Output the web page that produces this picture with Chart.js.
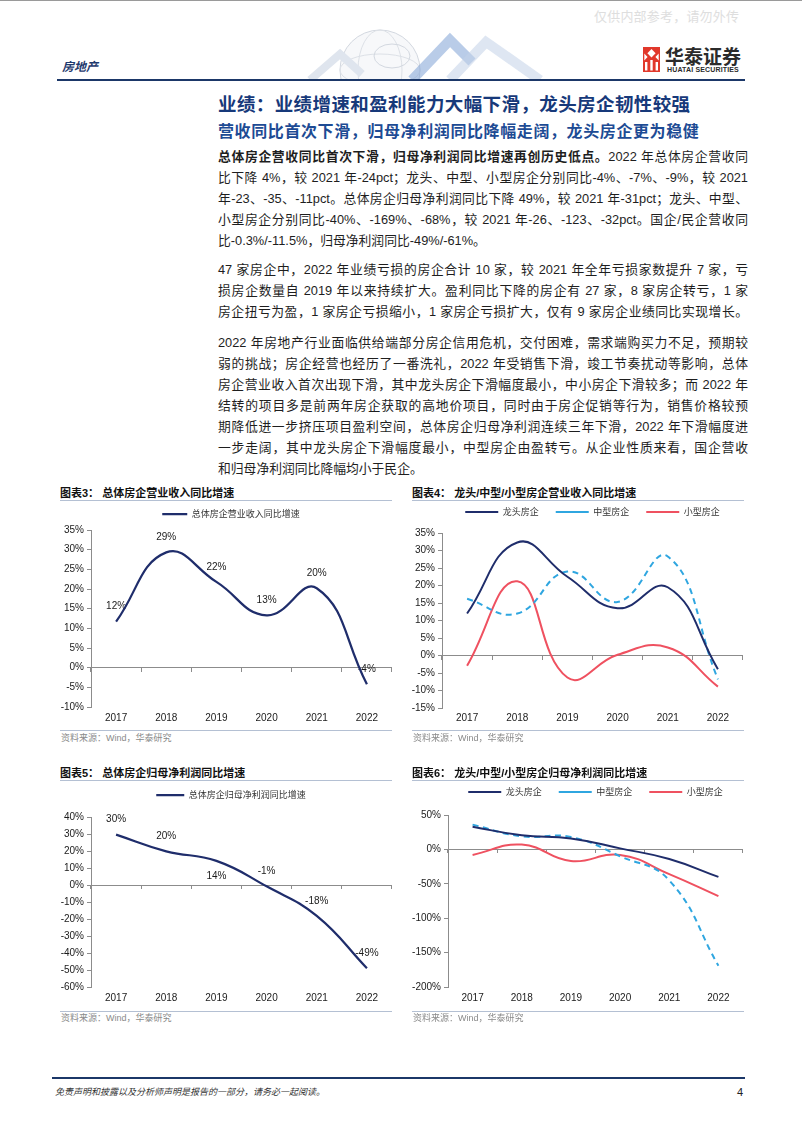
<!DOCTYPE html>
<html lang="zh-CN">
<head>
<meta charset="utf-8">
<title>房地产</title>
<script src="https://cdn.jsdelivr.net/npm/chart.js@4.4.1/dist/chart.umd.min.js"></script>
<style>
  html, body { margin: 0; padding: 0; background: #fff; }
  body {
    position: relative; width: 802px; height: 1133px; overflow: hidden;
    font-family: "Liberation Sans", Arial, "Noto Sans CJK SC", sans-serif; color: #1a1a1a;
  }
  .abs { position: absolute; white-space: nowrap; }
  .topline { left: 0; top: 0; width: 802px; height: 1px; background: #9a9a9a; }
  .watermark { left: 594px; top: 8px; font-size: 13px; line-height: 16px; color: #dedede; letter-spacing: 0.2px; font-family: "Noto Sans CJK SC", sans-serif; }
  .sector { left: 62px; top: 59px; font-size: 12px; line-height: 14px; font-weight: bold; font-style: italic; color: #1f3a6e; font-family: "Noto Sans CJK SC", sans-serif; }
  .brand { left: 665px; top: 46px; font-size: 19px; line-height: 20px; font-weight: bold; color: #2b2b2b; font-family: "Noto Sans CJK SC", sans-serif; }
  .brand-en { left: 667px; top: 66px; font-size: 7px; line-height: 8px; font-weight: bold; color: #2b2b2b; letter-spacing: 0.15px; }
  .rule-head { left: 57px; top: 79px; width: 688px; height: 2px; background: #1b3768; }
  .title { left: 218px; top: 92px; font-size: 18.5px; line-height: 22px; font-weight: bold; letter-spacing: 0.4px; color: #17397a; font-family: "Noto Sans CJK SC", sans-serif; }
  .subtitle { left: 218px; top: 120px; font-size: 16px; line-height: 20px; font-weight: bold; letter-spacing: 0.6px; color: #1d4b94; font-family: "Noto Sans CJK SC", sans-serif; }
  .para { position: absolute; left: 218px; width: 530px; font-size: 12.8px; line-height: 21px; color: #1e1e1e; }
  .ln { text-align: justify; text-align-last: justify; height: 21px; }
  .ln.last { text-align-last: left; }
  .ctitle { font-size: 11px; line-height: 14px; font-weight: bold; color: #111; }
  .crule { height: 1px; width: 332px; background: #b4c0d3; }
  .source { font-size: 9px; line-height: 12px; color: #8a8a8a; }
  .rule-foot { left: 52px; top: 1077px; width: 693px; height: 2px; background: #1b3768; }
  .foot { left: 55px; top: 1085px; font-size: 9px; line-height: 14px; font-style: italic; color: #333; font-family: "Noto Sans CJK SC", sans-serif; }
  .page { left: 737px; top: 1085px; font-size: 11px; line-height: 14px; color: #222; }
  canvas { position: absolute; }
</style>
</head>
<body>
<div class="abs topline"></div>
<div class="abs watermark">仅供内部参考，请勿外传</div>

<svg class="abs" style="left:300px;top:26px" width="250" height="54" viewBox="0 0 250 54">
  <circle cx="80" cy="44" r="40" fill="#f7f8fa" stroke="#d3d8e0" stroke-width="1"/>
  <ellipse cx="80" cy="44" rx="22" ry="40" fill="none" stroke="#dde1e7"/>
  <ellipse cx="80" cy="44" rx="40" ry="16" fill="none" stroke="#dde1e7"/>
  <ellipse cx="92" cy="30" rx="18" ry="12" fill="none" stroke="#d3d8e0"/>
  <polyline points="10,54 40,28 62,48" fill="none" stroke="#dfe5ee" stroke-width="8"/>
  <polyline points="112,54 150,14 172,36" fill="none" stroke="#7fa3d6" stroke-width="10" opacity="0.55"/>
  <polyline points="150,54 186,16 240,54" fill="none" stroke="#c3d2e8" stroke-width="10" opacity="0.55"/>
</svg>

<div class="abs sector">房地产</div>
<svg class="abs" style="left:643px;top:47px" width="17" height="25" viewBox="0 0 17 25">
  <rect width="17" height="25" fill="#e1382b"/>
  <path d="M8.5 2 L12.6 6.3 L8.5 10.6 L4.4 6.3Z" fill="#fff"/>
  <path d="M1.3 6.5 L4.6 10 L1.3 13.5Z M15.7 6.5 L12.4 10 L15.7 13.5Z" fill="#fff"/>
  <rect x="2" y="15" width="2.4" height="8.5" fill="#fff"/>
  <rect x="7.3" y="13" width="2.4" height="10.5" fill="#fff"/>
  <rect x="12.6" y="15" width="2.4" height="8.5" fill="#fff"/>
</svg>
<div class="abs brand">华泰证券</div>
<div class="abs brand-en">HUATAI SECURITIES</div>
<div class="abs rule-head"></div>

<div class="abs title">业绩：业绩增速和盈利能力大幅下滑，龙头房企韧性较强</div>
<div class="abs subtitle">营收同比首次下滑，归母净利润同比降幅走阔，龙头房企更为稳健</div>

<div class="para" style="top:146px">
  <div class="ln"><b>总体房企营收同比首次下滑，归母净利润同比增速再创历史低点。</b>2022 年总体房企营收同</div>
  <div class="ln">比下降 4%，较 2021 年-24pct；龙头、中型、小型房企分别同比-4%、-7%、-9%，较 2021</div>
  <div class="ln">年-23、-35、-11pct。总体房企归母净利润同比下降 49%，较 2021 年-31pct；龙头、中型、</div>
  <div class="ln">小型房企分别同比-40%、-169%、-68%，较 2021 年-26、-123、-32pct。国企/民企营收同</div>
  <div class="ln last">比-0.3%/-11.5%，归母净利润同比-49%/-61%。</div>
</div>

<div class="para" style="top:259px">
  <div class="ln">47 家房企中，2022 年业绩亏损的房企合计 10 家，较 2021 年全年亏损家数提升 7 家，亏</div>
  <div class="ln">损房企数量自 2019 年以来持续扩大。盈利同比下降的房企有 27 家，8 家房企转亏，1 家</div>
  <div class="ln">房企扭亏为盈，1 家房企亏损缩小，1 家房企亏损扩大，仅有 9 家房企业绩同比实现增长。</div>
</div>

<div class="para" style="top:332px">
  <div class="ln">2022 年房地产行业面临供给端部分房企信用危机，交付困难，需求端购买力不足，预期较</div>
  <div class="ln">弱的挑战；房企经营也经历了一番洗礼，2022 年受销售下滑，竣工节奏扰动等影响，总体</div>
  <div class="ln">房企营业收入首次出现下滑，其中龙头房企下滑幅度最小，中小房企下滑较多；而 2022 年</div>
  <div class="ln">结转的项目多是前两年房企获取的高地价项目，同时由于房企促销等行为，销售价格较预</div>
  <div class="ln">期降低进一步挤压项目盈利空间，总体房企归母净利润连续三年下滑，2022 年下滑幅度进</div>
  <div class="ln">一步走阔，其中龙头房企下滑幅度最小，中型房企由盈转亏。从企业性质来看，国企营收</div>
  <div class="ln last">和归母净利润同比降幅均小于民企。</div>
</div>

<div class="abs ctitle" style="left:60px;top:486px">图表3：&nbsp;总体房企营业收入同比增速</div>
<div class="abs crule" style="left:60px;top:500px"></div>
<div class="abs crule" style="left:60px;top:730px"></div>
<div class="abs source" style="left:61px;top:732px">资料来源：Wind，华泰研究</div>
<canvas id="c3"></canvas>

<div class="abs ctitle" style="left:412px;top:486px">图表4：&nbsp;龙头/中型/小型房企营业收入同比增速</div>
<div class="abs crule" style="left:412px;top:500px"></div>
<div class="abs crule" style="left:412px;top:730px"></div>
<div class="abs source" style="left:413px;top:732px">资料来源：Wind，华泰研究</div>
<canvas id="c4"></canvas>

<div class="abs ctitle" style="left:60px;top:766px">图表5：&nbsp;总体房企归母净利润同比增速</div>
<div class="abs crule" style="left:60px;top:780px"></div>
<div class="abs crule" style="left:60px;top:1011px"></div>
<div class="abs source" style="left:61px;top:1012px">资料来源：Wind，华泰研究</div>
<canvas id="c5"></canvas>

<div class="abs ctitle" style="left:412px;top:766px">图表6：&nbsp;龙头/中型/小型房企归母净利润同比增速</div>
<div class="abs crule" style="left:412px;top:780px"></div>
<div class="abs crule" style="left:412px;top:1011px"></div>
<div class="abs source" style="left:413px;top:1012px">资料来源：Wind，华泰研究</div>
<canvas id="c6"></canvas>

<div class="abs rule-foot"></div>
<div class="abs foot">免责声明和披露以及分析师声明是报告的一部分，请务必一起阅读。</div>
<div class="abs page">4</div>

<script>
// data, in %
const years = ['2017', '2018', '2019', '2020', '2021', '2022'];
const seriesNames = ['龙头房企', '中型房企', '小型房企'];

// 图表3 总体房企营业收入同比增速
const revTotal = [11.7, 29.3, 21.8, 13.3, 20.2, -4.2];
const revTicks = [35, 30, 25, 20, 15, 10, 5, 0, -5, -10];

// 图表4 龙头/中型/小型房企营业收入同比增速
const revLeader = [12, 32.3, 22.5, 13.5, 19.5, -3.9];
const revMid = [16.2, 12, 24, 15.3, 28.3, -6.8];
const revSmall = [-2.9, 21.2, -6.3, 0.2, 2.3, -8.9];
const revGroupTicks = [35, 30, 25, 20, 15, 10, 5, 0, -5, -10, -15];

// 图表5 总体房企归母净利润同比增速
const profitTotal = [29.6, 19.8, 14.2, -0.8, -18.2, -49];
const profitTicks = [40, 30, 20, 10, 0, -10, -20, -30, -40, -50, -60];

// 图表6 龙头/中型/小型房企归母净利润同比增速
const profitLeader = [33, 20.5, 16, 1.5, -14, -40];
const profitMid = [36, 19, 18, -10, -45, -169];
const profitSmall = [-8, 7, -17, -8, -36, -68];
const profitGroupTicks = [50, 0, -50, -100, -150, -200];

const NAVY = '#1f2d6b';
const SKY = '#2fa6e0';
const CORAL = '#ef5160';
const AXIS = '#8c8c8c';
const CJK = '"Noto Sans CJK SC", sans-serif';

Chart.defaults.font.family = '"Liberation Sans", Arial, "Noto Sans CJK SC", sans-serif';

// value labels above (or below) each point, drawn under the line
const valueLabels = {
    id: 'valueLabels',
    beforeDatasetsDraw(chart, args, opts) {
        if (!opts || !opts.show) return;
        const ctx = chart.ctx;
        const values = chart.data.datasets[0].data;
        const below = opts.below || [];
        ctx.save();
        ctx.font = '10px "Liberation Sans", Arial, sans-serif';
        ctx.fillStyle = '#1a1a1a';
        ctx.textAlign = 'center';
        ctx.textBaseline = 'middle';
        chart.getDatasetMeta(0).data.forEach((pt, i) => {
            const dy = below.includes(i) ? 15 : -15;
            ctx.fillText(Math.round(values[i]) + '%', pt.x, pt.y + dy);
        });
        ctx.restore();
    }
};

function series(label, data, color, width, dash) {
    return {
        label, data,
        xAxisID: 'x',
        yAxisID: 'y',
        borderColor: color,
        backgroundColor: color,
        borderWidth: width,
        borderDash: dash || [],
        pointRadius: 0,
        pointHoverRadius: 0,
        tension: 0.45,
        fill: false
    };
}

// g.area = [left, right, top, bottom] of the plot, in page pixels
function lineChart(id, g, datasets, ticks, labels) {
    const canvas = document.getElementById(id);
    const fs = 9;
    const legendTop = g.legendY - g.pad - fs / 2;
    const top = Math.floor(legendTop);
    const [L, R, T, B] = g.area;
    // a blank right-hand strip shifts a full-width legend to its centre
    const side = g.legendX ? 2 * g.legendX - R - g.left : 0;
    const right = R + side + 2;
    const bottom = B + 24;
    canvas.width = right - g.left;
    canvas.height = bottom - top;
    canvas.style.left = g.left + 'px';
    canvas.style.top = top + 'px';
    canvas.style.width = canvas.width + 'px';
    canvas.style.height = canvas.height + 'px';

    return new Chart(canvas, {
        type: 'line',
        data: { labels: years, datasets },
        options: {
            responsive: false,
            animation: false,
            events: [],
            layout: { padding: { left: 0, right: 2, top: legendTop - top, bottom: 0 } },
            plugins: {
                legend: {
                    position: 'top',
                    fullSize: !!g.legendX,
                    labels: {
                        usePointStyle: true,
                        pointStyle: 'line',
                        pointStyleWidth: g.lineW,
                        padding: g.pad,
                        color: '#333',
                        font: { family: CJK, size: fs }
                    }
                },
                tooltip: { enabled: false },
                valueLabels: labels || { show: false }
            },
            scales: {
                x: {
                    type: 'category', position: 'bottom', offset: true,
                    grid: { display: false, drawTicks: false },
                    border: { display: false },
                    ticks: { color: '#1a1a1a', font: { size: 10 }, padding: g.labelPad, maxRotation: 0, autoSkip: false },
                    afterFit: s => { s.height = 24; }
                },
                gap: {
                    axis: 'x', type: 'category', position: 'top',
                    grid: { display: false, drawTicks: false },
                    border: { display: false },
                    ticks: { display: false },
                    afterFit: s => { s.height = T - g.legendY - fs / 2 - 10; }
                },
                x0: {
                    axis: 'x', type: 'category', position: { y: 0 }, offset: true,
                    grid: { offset: true, drawOnChartArea: false, tickLength: 4, color: AXIS, lineWidth: 1 },
                    border: { display: false },
                    ticks: { display: false }
                },
                y: {
                    position: 'left',
                    min: ticks[ticks.length - 1],
                    max: ticks[0],
                    afterBuildTicks: s => { s.ticks = ticks.map(v => ({ value: v })); },
                    border: { color: AXIS, width: 1 },
                    grid: {
                        color: c => (c.tick && c.tick.value === 0 ? AXIS : 'rgba(0,0,0,0)'),
                        tickColor: AXIS,
                        tickLength: 4,
                        lineWidth: 1
                    },
                    ticks: { color: '#1a1a1a', font: { size: 10 }, padding: 3, callback: v => v + '%' },
                    afterFit: s => { s.width = L - g.left; }
                },
                side: {
                    axis: 'y', type: 'linear', position: 'right',
                    display: side > 0,
                    grid: { display: false, drawTicks: false },
                    border: { display: false },
                    ticks: { display: false },
                    afterFit: s => { s.width = side; }
                }
            }
        },
        plugins: [valueLabels]
    });
}

lineChart('c3',
    { left: 50, area: [91, 392, 530, 707], legendY: 514, legendX: 231, pad: 4, lineW: 25, labelPad: 5 },
    [series('总体房企营业收入同比增速', revTotal, NAVY, 2.25)],
    revTicks,
    { show: true, below: [] });

lineChart('c4',
    { left: 405, area: [442, 743, 533, 708], legendY: 512, pad: 17, lineW: 33, labelPad: 4 },
    [
        series(seriesNames[0], revLeader, NAVY, 2),
        series(seriesNames[1], revMid, SKY, 2, [6, 4.5]),
        series(seriesNames[2], revSmall, CORAL, 2)
    ],
    revGroupTicks);

lineChart('c5',
    { left: 50, area: [91, 392, 817, 987], legendY: 795, legendX: 231, pad: 4, lineW: 28, labelPad: 5 },
    [series('总体房企归母净利润同比增速', profitTotal, NAVY, 2.25)],
    profitTicks,
    { show: true, below: [2] });

lineChart('c6',
    { left: 405, area: [448, 743, 815, 987], legendY: 792, pad: 17, lineW: 33, labelPad: 5 },
    [
        series(seriesNames[0], profitLeader, NAVY, 2),
        series(seriesNames[1], profitMid, SKY, 2, [6, 4.5]),
        series(seriesNames[2], profitSmall, CORAL, 2)
    ],
    profitGroupTicks);
</script>
</body>
</html>
